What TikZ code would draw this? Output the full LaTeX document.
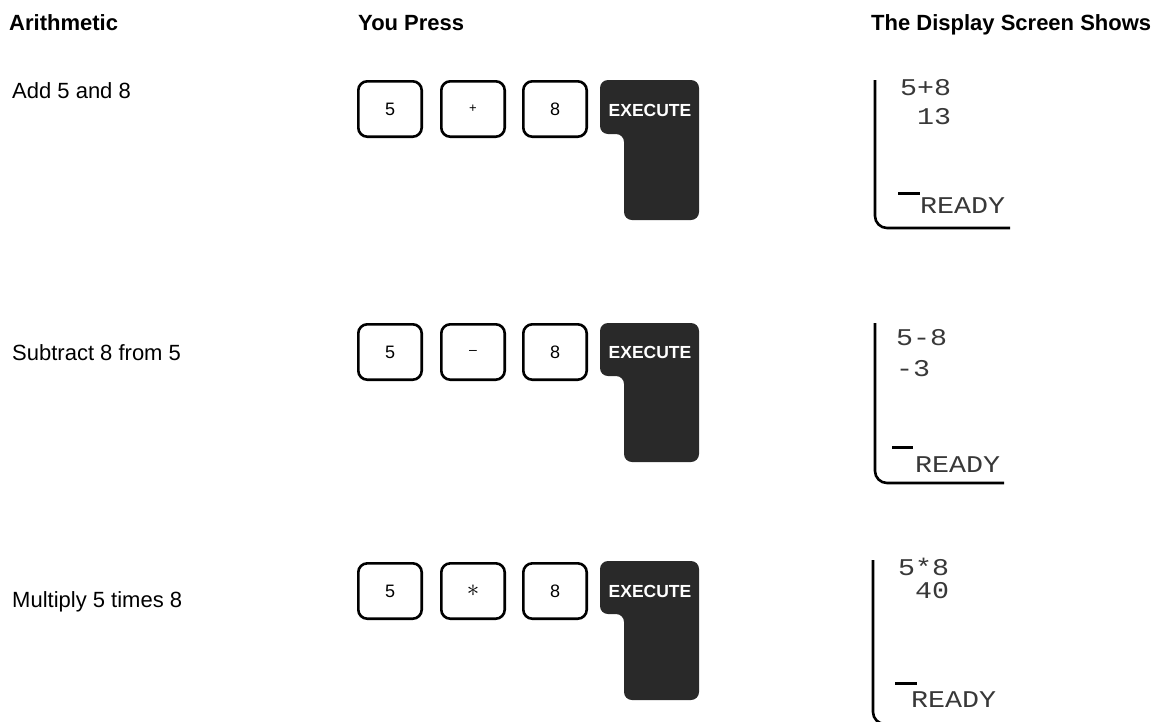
\documentclass[tikz,border=0pt]{standalone}
\usepackage{fontspec}
\setmainfont{Liberation Sans}
\newfontfamily\scrfont{Liberation Mono}[FakeStretch=1.18]
\definecolor{keydark}{gray}{0.16}
\definecolor{scrtext}{gray}{0.22}
\begin{document}
\begin{tikzpicture}[x=1pt,y=-1pt,
  hdr/.style={anchor=base west, inner sep=0pt, font=\fontsize{22}{26}\selectfont\bfseries},
  lbl/.style={anchor=base west, inner sep=0pt, font=\fontsize{22}{26}\selectfont},
  keybox/.style={draw, line width=2.6pt, rounded corners=9pt, minimum width=63.4pt, minimum height=55.4pt, inner sep=0pt, font=\fontsize{18}{20}\selectfont},
  exekey/.style={fill=keydark, rounded corners=8pt},
  exetext/.style={inner sep=0pt, text=white, font=\fontsize{17.5}{20}\selectfont\bfseries},
  scrline/.style={line width=2.6pt, rounded corners=12pt},
  scrtxt/.style={anchor=base west, inner sep=0pt, text=scrtext, font=\fontsize{24}{26}\selectfont\scrfont},
  cursorbar/.style={line width=3pt}
]
\useasboundingbox (0,0) rectangle (1155,721);

% headers
\node[hdr] (hA) at (9,30) {Arithmetic};
\node[hdr] (hB) at (358,30) {You Press};
\node[hdr] (hC) at (871,30) {The Display Screen Shows};

% labels
\node[lbl] (l1) at (12,98) {Add 5 and 8};
\node[lbl] (l2) at (12,360) {Subtract 8 from 5};
\node[lbl] (l3) at (12,607) {Multiply 5 times 8};

% row 1 keys
\node[keybox] (k11) at (390,109) {5};
\node[keybox] (k12) at (473,109) {\fontsize{13}{14}\selectfont +};
\node[keybox] (k13) at (555,109) {8};
\fill[exekey] (600,80) -- (699,80) -- (699,220) -- (624,220) -- (624,134) -- (600,134) -- cycle;
\node[exetext] (e1) at (650,110) {EXECUTE};

% row 2 keys
\node[keybox] (k21) at (390,352) {5};
\node[keybox] (k22) at (473,352) {\fontsize{14}{14}\selectfont –};
\node[keybox] (k23) at (555,352) {8};
\fill[exekey] (600,323) -- (699,323) -- (699,462) -- (624,462) -- (624,376) -- (600,376) -- cycle;
\node[exetext] (e2) at (650,352) {EXECUTE};

% row 3 keys
\node[keybox] (k31) at (390,591) {5};
\node[keybox] (k32) at (473,591) {\fontsize{26}{26}\selectfont$\ast$};
\node[keybox] (k33) at (555,591) {8};
\fill[exekey] (600,561) -- (699,561) -- (699,700) -- (624,700) -- (624,614) -- (600,614) -- cycle;
\node[exetext] (e3) at (650,591) {EXECUTE};

% screen 1
\draw[scrline] (875,80) -- (875,228) -- (1010,228);
\node[scrtxt] (s11) at (900,95) {5+8};
\node[scrtxt] (s12) at (900,124) {\ 13};
\draw[cursorbar] (898,193) -- (920,193);
\node[scrtxt] (s13) at (920,213) {READY};

% screen 2
\draw[scrline] (875,323) -- (875,483) -- (1004,483);
\node[scrtxt] (s21) at (896,345) {5-8};
\node[scrtxt] (s22) at (896,376) {-3};
\draw[cursorbar] (892,447) -- (913,447);
\node[scrtxt] (s23) at (915,472) {READY};

% screen 3
\draw[scrline] (873,560) -- (873,724) -- (1010,724);
\node[scrtxt] (s31) at (898,575) {5*8};
\node[scrtxt] (s32) at (898,598) {\ 40};
\draw[cursorbar] (895,683) -- (917,683);
\node[scrtxt] (s33) at (911,707) {READY};
\end{tikzpicture}
\end{document}
